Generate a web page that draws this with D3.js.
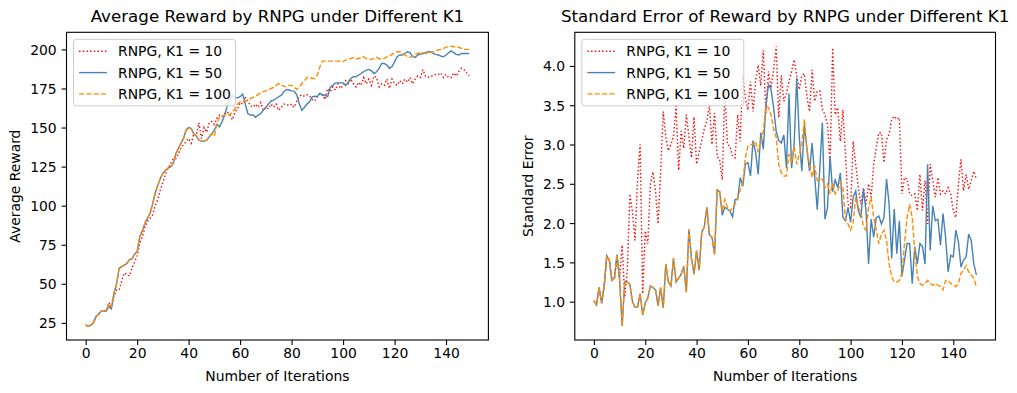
<!DOCTYPE html>
<html>
<head>
<meta charset="utf-8">
<script src="https://cdn.jsdelivr.net/npm/d3@7"></script>
<style>
  body { margin: 0; background: #fff; }
  svg text { font-family: "DejaVu Sans", sans-serif; fill: #000; }
</style>
</head>
<body>
<div class="graph"></div>
<script>
// Tick labels and legend names
let xTicks = [0, 20, 40, 60, 80, 100, 120, 140];
let rewardTicks = [25, 50, 75, 100, 125, 150, 175, 200];
let errorTicks = [1.0, 1.5, 2.0, 2.5, 3.0, 3.5, 4.0];
let seriesNames = ["RNPG, K1 = 10", "RNPG, K1 = 50", "RNPG, K1 = 100"];

// Average reward per iteration
let rewardK10 = [
  23.5, 23, 23.5, 25, 29, 30.5, 32.5, 32.5, 33, 38,
  35, 42, 46, 46, 52, 57, 56, 55, 60, 64,
  68, 76, 80, 86, 90, 92, 94, 100, 104, 110,
  115, 120, 124, 127, 130, 130, 133, 137, 139, 141,
  143, 140, 146, 145, 153, 143, 150, 147, 153, 154,
  152, 156, 158, 157, 159, 160, 158, 155, 160, 162,
  166, 165, 169, 167, 164, 163, 165, 163, 166, 161,
  163, 162, 165, 163, 165, 161, 163, 165, 165, 164,
  165, 163, 167, 170, 171, 170, 171, 170, 168, 167,
  170, 172, 171, 168, 175, 173, 176, 174, 178, 175,
  177, 180, 178, 181, 178, 176, 179, 177, 182, 178,
  181, 177, 183, 182, 176, 178, 177, 181, 175, 181,
  178, 177, 180, 178, 181, 179, 182, 178, 181, 183,
  182, 187, 183, 182, 183, 183, 184, 184, 185, 182,
  184, 182, 182, 185, 183, 186, 188, 187, 185, 183
];
let rewardK50 = [
  23.5, 23, 23.5, 25, 29, 30.5, 32.5, 32.5, 32.5, 35.5,
  34, 44, 50, 60, 61, 62, 63, 65.5, 66, 69,
  70.5, 80, 84, 88.6, 92, 95, 101, 108, 113, 117.5,
  120.6, 122.7, 124, 125, 127, 133, 136.6, 140, 143, 148.3,
  150, 149.4, 146, 144.5, 142, 141.3, 141.3, 142, 144, 146,
  148.3, 152, 150.5, 153.7, 158, 164, 168.6, 170.7, 169, 169,
  169.7, 171.4, 165, 159, 158, 158, 156.5, 158, 159, 161,
  163, 165, 167, 167.5, 168.6, 169.7, 170.7, 173, 174.4, 174,
  173.5, 173.3, 171, 165, 161, 163, 165, 166.5, 169.7, 170,
  169.7, 172, 170.7, 170.7, 169.7, 175.7, 177, 178.6, 178.6, 178.6,
  178.6, 177, 179, 181.4, 182.5, 182.5, 183.6, 184.6, 185.7, 186.8,
  187.2, 186.4, 184.6, 185.7, 187.8, 191, 191, 190, 187.8, 189,
  192, 195.3, 196.4, 196.4, 197.4, 198.5, 197.9, 195.3, 194.9, 196.4,
  197, 197.4, 197.9, 198.5, 198.5, 197.4, 196.8, 196.4, 195.7, 195.3,
  196.4, 197.9, 199.1, 197.9, 196.8, 196.4, 197.4, 197.4, 197.4, 197.4
];
let rewardK100 = [
  23.5, 23, 23.5, 25, 29, 30.5, 32.5, 32.5, 32.5, 37,
  35.5, 44, 50, 60, 61, 62, 63, 65.5, 66, 69,
  70.5, 80, 84, 88.6, 92, 95, 101, 108, 113, 117.5,
  120.6, 122.7, 124, 125, 127, 133, 136.6, 140, 143, 148.3,
  150, 149.4, 146, 144.5, 142, 141.3, 141.3, 142, 144, 146,
  144.5, 152.6, 157, 157.3, 158, 159, 158, 160, 162, 165,
  166.5, 166.5, 167, 167.5, 168.6, 169.3, 170, 171.2, 172.3, 173,
  173.5, 174, 175, 175.7, 177, 178.2, 177, 176.5, 176, 177,
  177, 175.7, 174.4, 176, 178.2, 180, 182, 182, 181.4, 181.4,
  183.6, 189, 192.5, 192.5, 192.5, 192.5, 192.5, 192.5, 192.5, 192.5,
  192.1, 193.2, 193.8, 194.2, 194.7, 193.8, 194.2, 194.9, 195.3, 194.2,
  193.6, 193.6, 194.2, 194.9, 194.2, 193.6, 194.2, 195.3, 195.7, 196.8,
  197.9, 198.5, 198.5, 197.4, 196.4, 195.3, 194.9, 195.7, 196.8, 197.4,
  197.9, 197.9, 197.4, 197.4, 197.9, 198.5, 199.1, 199.6, 200, 200.7,
  201.3, 202, 202, 201.7, 201.7, 201.3, 200.7, 200, 200, 200
];

// Standard error per iteration
let errorK10 = [
  1.01, 0.96, 1.18, 0.98, 1.2, 1.58, 1.53, 1.27, 1.3, 1.58,
  1.3, 1.72, 1.06, 1.4, 2.37, 2.14, 1.78, 2.55, 3.0, 1.1,
  1.9, 1.74, 2.5, 2.65, 2.41, 1.99, 2.67, 3.42, 3.1, 2.92,
  3.0, 3.1, 3.49, 2.67, 3.17, 2.95, 3.38, 3.1, 2.83, 3.35,
  2.75, 2.9, 3.05, 3.2, 3.3, 3.5, 3.0, 3.4, 2.85, 2.8,
  2.55, 3.7, 3.0, 2.98, 2.85, 2.83, 3.38, 3.04, 3.88, 3.59,
  3.44, 3.8, 3.42, 3.82, 4.01, 3.75, 4.2, 3.4, 3.93, 3.72,
  3.95, 4.25, 3.34, 3.88, 3.55, 3.65, 3.8, 3.93, 4.08, 3.88,
  3.7, 3.88, 3.9, 3.6, 3.42, 3.95, 3.55, 3.68, 3.68, 3.45,
  3.38, 3.25, 2.75, 4.23, 3.38, 3.47, 3.04, 3.44, 2.88, 2.24,
  2.2, 3.04, 2.75, 2.45, 2.24, 2.45, 2.24, 2.5, 2.33, 2.75,
  2.96, 3.15, 3.15, 2.77, 3.06, 3.13, 3.32, 3.36, 3.32, 3.34,
  2.37, 2.58, 2.56, 2.37, 2.35, 2.37, 2.16, 2.62, 2.16, 2.54,
  1.99, 2.75, 2.54, 2.33, 2.58, 2.37, 2.41, 2.37, 2.45, 2.37,
  2.16, 2.07, 2.5, 2.81, 2.41, 2.62, 2.43, 2.54, 2.66, 2.56
];
let errorK50 = [
  1.01, 0.96, 1.18, 0.98, 1.2, 1.58, 1.53, 1.27, 1.3, 1.6,
  1.28, 0.69, 1.25, 1.25, 1.22, 1.0, 0.93, 0.93, 1.1, 0.83,
  0.98, 1.05, 1.2, 1.18, 1.15, 0.95, 1.18, 0.92, 1.48, 1.25,
  1.2, 1.55, 1.25, 1.3, 1.35, 1.45, 1.12, 1.92, 1.55, 1.35,
  1.65, 1.4, 1.88, 1.95, 2.2, 1.85, 1.82, 1.6, 2.42, 2.4,
  2.1, 2.2, 2.18, 2.15, 2.08, 2.3, 2.3, 2.58, 2.47, 2.75,
  2.77, 2.6, 3.05, 2.9, 2.62, 3.15, 2.94, 3.5, 3.76, 3.7,
  3.47, 3.17, 3.05, 3.02, 3.12, 2.7, 3.65, 2.7, 3.0, 3.85,
  3.1, 2.66, 3.25, 2.94, 2.66, 3.02, 2.6, 2.17, 2.7, 3.28,
  2.05, 2.2, 2.85, 2.4, 2.55, 2.45, 2.64, 2.07, 2.03, 2.2,
  2.01, 2.33, 2.41, 2.16, 2.07, 2.43, 2.16, 1.48, 2.05, 1.82,
  2.07, 2.09, 1.99, 2.07, 2.56, 2.24, 1.55, 2.18, 1.61, 2.03,
  1.32, 1.53, 1.74, 1.74, 1.23, 1.7, 1.48, 1.74, 1.7, 1.48,
  2.75, 1.65, 2.22, 2.03, 2.05, 1.72, 2.12, 1.82, 1.38, 1.59,
  1.57, 1.91, 1.76, 1.44, 1.53, 1.57, 1.86, 1.78, 1.48, 1.34
];
let errorK100 = [
  1.01, 0.96, 1.18, 0.98, 1.2, 1.58, 1.53, 1.27, 1.3, 1.6,
  1.28, 0.69, 1.25, 1.25, 1.22, 1.0, 0.93, 0.93, 1.1, 0.83,
  0.98, 1.05, 1.2, 1.18, 1.15, 0.95, 1.18, 0.92, 1.48, 1.25,
  1.2, 1.55, 1.25, 1.3, 1.35, 1.45, 1.12, 1.92, 1.55, 1.35,
  1.65, 1.4, 1.88, 1.95, 2.2, 1.85, 1.82, 1.6, 2.42, 2.4,
  2.15, 2.3, 2.2, 2.15, 2.2, 2.24, 2.33, 2.42, 2.52, 2.83,
  2.98, 3.0, 3.0, 3.04, 2.9, 3.05, 3.17, 3.49, 3.47, 3.38,
  3.2, 3.09, 2.75, 2.64, 2.6, 2.6, 2.88, 2.77, 2.98, 2.75,
  2.88, 3.0, 3.32, 2.92, 2.75, 2.58, 2.73, 2.54, 2.56, 2.56,
  2.45, 2.5, 2.37, 2.5, 2.37, 2.41, 2.52, 2.45, 2.05, 1.99,
  1.91, 2.01, 2.33, 2.2, 2.14, 1.95, 1.91, 2.2, 2.33, 2.07,
  1.91, 1.74, 1.86, 1.91, 1.78, 1.48, 1.32, 1.25, 1.25, 1.27,
  1.36, 1.74, 2.07, 2.24, 2.07, 1.65, 1.32, 1.23, 1.21, 1.23,
  1.27, 1.23, 1.21, 1.23, 1.21, 1.19, 1.15, 1.27, 1.27, 1.23,
  1.21, 1.19, 1.23, 1.36, 1.4, 1.46, 1.38, 1.34, 1.3, 1.19
];

// Global Variables
let width = 1017;
let height = 393;
let plotTop = 32.3;
let plotBottom = 340;
let fontSize = 13.9;
let lineStyles = [
  { color: "red", dash: "1.4,2.3" },
  { color: "steelblue", dash: null },
  { color: "darkorange", dash: "5.1,2.2" }
];

let svg = d3
  .select(".graph")
  .append("svg")
  .attr("width", width)
  .attr("height", height);

// Function to draw one subplot
function drawPanel(opts) {
  let g = svg.append("g");
  let n = opts.series[0].length;
  let all = opts.series.flat();
  let lo = d3.min(all);
  let hi = d3.max(all);
  let padY = (hi - lo) * 0.05;
  let padX = (n - 1) * 0.05;

  let x = d3
    .scaleLinear()
    .domain([-padX, n - 1 + padX])
    .range([opts.left, opts.right]);
  let y = d3
    .scaleLinear()
    .domain([lo - padY, hi + padY])
    .range([plotBottom, plotTop]);

  // Create Lines
  let line = d3
    .line()
    .x((d, i) => x(i))
    .y((d) => y(d));

  opts.series.forEach(function (values, k) {
    g.append("path")
      .datum(values)
      .attr("d", line)
      .attr("fill", "none")
      .attr("stroke", lineStyles[k].color)
      .attr("stroke-width", 1.4)
      .attr("stroke-dasharray", lineStyles[k].dash);
  });

  // Create Axes
  let xAxis = g
    .append("g")
    .attr("transform", `translate(0,${plotBottom})`)
    .call(
      d3.axisBottom(x).tickValues(xTicks).tickSize(4.9).tickPadding(2.8)
    );
  let yAxis = g
    .append("g")
    .attr("transform", `translate(${opts.left},0)`)
    .call(
      d3
        .axisLeft(y)
        .tickValues(opts.yTicks)
        .tickSize(4.9)
        .tickPadding(4.9)
        .tickFormat(opts.format)
    );
  [xAxis, yAxis].forEach(function (a) {
    a.select(".domain").remove();
    a.selectAll(".tick line").attr("stroke", "#000").attr("stroke-width", 1.1);
    a.selectAll(".tick text")
      .attr("font-family", "DejaVu Sans")
      .attr("font-size", fontSize)
      .attr("fill", "#000");
  });
  yAxis.selectAll(".tick text").attr("dy", "0.36em");

  // Frame
  g.append("rect")
    .attr("x", opts.left)
    .attr("y", plotTop)
    .attr("width", opts.right - opts.left)
    .attr("height", plotBottom - plotTop)
    .attr("fill", "none")
    .attr("stroke", "#000")
    .attr("stroke-width", 1.1);

  // Texts
  let cx = (opts.left + opts.right) / 2;
  g.append("text")
    .attr("x", cx)
    .attr("y", 22)
    .attr("text-anchor", "middle")
    .attr("font-size", 16.7)
    .text(opts.title);
  g.append("text")
    .attr("x", cx)
    .attr("y", 381)
    .attr("text-anchor", "middle")
    .attr("font-size", fontSize)
    .text("Number of Iterations");
  g.append("text")
    .attr(
      "transform",
      `translate(${opts.labelX},${(plotTop + plotBottom) / 2}) rotate(-90)`
    )
    .attr("text-anchor", "middle")
    .attr("font-size", fontSize)
    .text(opts.yLabel);

  // Create Legend
  let lx = opts.left + 7;
  let ly = plotTop + 7;
  let legend = g.append("g");
  legend
    .append("rect")
    .attr("x", lx)
    .attr("y", ly)
    .attr("width", 162)
    .attr("height", 66.5)
    .attr("rx", 2.8)
    .attr("fill", "#fff")
    .attr("fill-opacity", 0.8)
    .attr("stroke", "#cccccc")
    .attr("stroke-width", 1);
  seriesNames.forEach(function (name, k) {
    let ry = ly + 12 + k * 21.3;
    legend
      .append("line")
      .attr("x1", lx + 5.6)
      .attr("x2", lx + 33.4)
      .attr("y1", ry)
      .attr("y2", ry)
      .attr("stroke", lineStyles[k].color)
      .attr("stroke-width", 1.4)
      .attr("stroke-dasharray", lineStyles[k].dash);
    legend
      .append("text")
      .attr("x", lx + 44.5)
      .attr("y", ry)
      .attr("dy", "0.36em")
      .attr("font-size", fontSize)
      .text(name);
  });
}

drawPanel({
  left: 66.5,
  right: 488.4,
  title: "Average Reward by RNPG under Different K1",
  yLabel: "Average Reward",
  labelX: 19.5,
  yTicks: rewardTicks,
  format: d3.format("d"),
  series: [rewardK10, rewardK50, rewardK100]
});

drawPanel({
  left: 574.8,
  right: 995.5,
  title: "Standard Error of Reward by RNPG under Different K1",
  yLabel: "Standard Error",
  labelX: 533,
  yTicks: errorTicks,
  format: d3.format(".1f"),
  series: [errorK10, errorK50, errorK100]
});
</script>
</body>
</html>
